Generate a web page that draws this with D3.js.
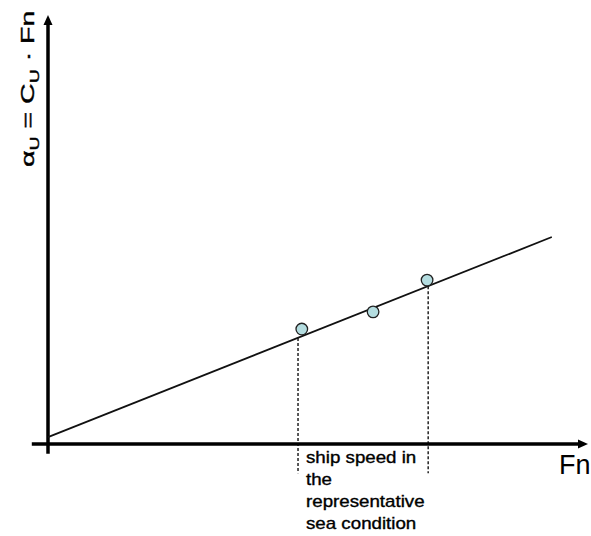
<!DOCTYPE html>
<html>
<head>
<meta charset="utf-8">
<script src="https://cdn.jsdelivr.net/npm/d3@7"></script>
<style>
  body { margin: 0; background: #fff; }
  svg { display: block; font-family: "Liberation Sans", Arial, sans-serif; }
</style>
</head>
<body>
<svg id="viz"></svg>
<script>
// measured points (Fn, alpha)
var pointFn = [0.470, 0.602, 0.702];
var pointAlpha = [0.268, 0.308, 0.382];

// fitted line alpha = C * Fn
var lineFn = [0, 0.933];
var lineAlpha = [0.016, 0.4825];

// drop lines to the speed range
var dashFn = [0.463, 0.704];
var dashTop = [0.247, 0.368];
var dashBottom = -0.068;

var noteLines = ["ship speed in", "the", "representative", "sea condition"];

width = 591;
height = 536;

var x = d3.scaleLinear().domain([0, 1]).range([48, 588]);
var y = d3.scaleLinear().domain([0, 1]).range([444, 15]);

var svg = d3.select("#viz").attr("width", width).attr("height", height);

// axes
svg.append("line")
  .attr("x1", x(-0.03)).attr("x2", x(1) - 6)
  .attr("y1", y(0)).attr("y2", y(0))
  .attr("stroke", "#000").attr("stroke-width", 3.5);
svg.append("path")
  .attr("d", `M${x(1)},${y(0)} L${x(1) - 10},${y(0) - 4.5} L${x(1) - 10},${y(0) + 4.5} Z`)
  .attr("fill", "#000");

svg.append("line")
  .attr("x1", x(0)).attr("x2", x(0))
  .attr("y1", y(-0.023)).attr("y2", y(1) + 6)
  .attr("stroke", "#000").attr("stroke-width", 3.5);
svg.append("path")
  .attr("d", `M${x(0)},${y(1)} L${x(0) - 4.5},${y(1) + 10} L${x(0) + 4.5},${y(1) + 10} Z`)
  .attr("fill", "#000");

// dashed drop lines
svg.selectAll(".drop").data(dashFn).join("line").attr("class", "drop")
  .attr("x1", d => x(d)).attr("x2", d => x(d))
  .attr("y1", (d, i) => y(dashTop[i])).attr("y2", y(dashBottom))
  .attr("stroke", "#000").attr("stroke-width", 1.3)
  .attr("stroke-dasharray", "3,2");

// fit line
var line = d3.line().x(d => x(d[0])).y(d => y(d[1]));
svg.append("path")
  .datum(lineFn.map((f, i) => [f, lineAlpha[i]]))
  .attr("d", line)
  .attr("fill", "none").attr("stroke", "#111").attr("stroke-width", 1.8);

// points
svg.selectAll(".pt").data(pointFn).join("circle").attr("class", "pt")
  .attr("cx", d => x(d)).attr("cy", (d, i) => y(pointAlpha[i]))
  .attr("r", 5.8)
  .attr("fill", "#b4dde0").attr("stroke", "#222").attr("stroke-width", 1.3);

// x axis label
svg.append("text")
  .attr("x", 559).attr("y", 474)
  .attr("font-size", 27)
  .text("Fn");

// y axis label (stretched along its length like the original)
var yl = svg.append("text")
  .attr("transform", "translate(34,167) rotate(-90) scale(1.5,1)")
  .attr("font-size", 19)
  .attr("stroke", "#000").attr("stroke-width", 0.4);
yl.append("tspan").text("α");
yl.append("tspan").attr("font-size", 13).attr("dy", 5).text("U");
yl.append("tspan").attr("dy", -5).text(" = C");
yl.append("tspan").attr("font-size", 13).attr("dy", 5).text("U");
yl.append("tspan").attr("dy", -5).text(" · Fn");

// note under the axis
svg.append("g")
  .attr("transform", "translate(306,0) scale(1.17,1)")
  .selectAll("text").data(noteLines).join("text")
  .attr("x", 0).attr("y", (d, i) => 463 + i * 22)
  .attr("font-size", 16)
  .attr("stroke", "#000").attr("stroke-width", 0.35)
  .text(d => d);
</script>
</body>
</html>
